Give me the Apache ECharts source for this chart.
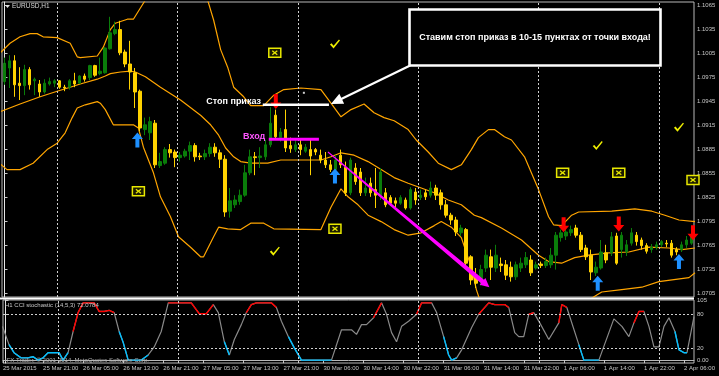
<!DOCTYPE html>
<html><head><meta charset="utf-8">
<script src="https://cdn.jsdelivr.net/npm/echarts@6/dist/echarts.min.js"></script>
<style>html,body{margin:0;padding:0;background:#000;overflow:hidden}#c{width:719px;height:376px}</style>
</head><body><div id="c"></div>
<script>
// ---------------- DATA ----------------
const timeLabels = ['25 Mar 2015','25 Mar 21:00','26 Mar 05:00','26 Mar 13:00','26 Mar 21:00','27 Mar 05:00','27 Mar 13:00','27 Mar 21:00','30 Mar 06:00','30 Mar 14:00','30 Mar 22:00','31 Mar 06:00','31 Mar 14:00','31 Mar 22:00','1 Apr 06:00','1 Apr 14:00','1 Apr 22:00','2 Apr 06:00'];
const priceTicks = [1.1065,1.1035,1.1005,1.0975,1.0945,1.0915,1.0885,1.0855,1.0825,1.0795,1.0765,1.0735,1.0705];
const stochTicks = [105,80,20,0];
const stochTickLabels = ['105','80','20','0.00'];
const stochLevels = [80,20];
const daySeparators = [10.5,34.5,58.5,82.5,106.5,130.5];
// candles: [open, close, low, high]
const candles = [
[1.0970,1.0993,1.0966,1.1000],[1.0987,1.0996,1.0962,1.1003],[1.0996,1.0966,1.0951,1.1003],[1.0968,1.0965,1.0947,1.0988],
[1.0965,1.0985,1.0953,1.0991],[1.0985,1.0966,1.0960,1.0988],[1.0971,1.0973,1.0953,1.0975],[1.0967,1.0957,1.0951,1.0972],
[1.0957,1.0968,1.0955,1.0973],[1.0967,1.0970,1.0965,1.0975],[1.0968,1.0971,1.0963,1.0973],[1.0971,1.0963,1.0961,1.0972],
[1.0963,1.0962,1.0958,1.0966],[1.0963,1.0971,1.0960,1.0973],[1.0971,1.0967,1.0963,1.0981],[1.0968,1.0977,1.0967,1.0978],
[1.0977,1.0973,1.0970,1.0980],[1.0975,1.0990,1.0972,1.0991],[1.0990,1.0978,1.0976,1.0991],[1.0980,1.0983,1.0978,1.1000],
[1.0981,1.1012,1.0980,1.1013],[1.1011,1.1031,1.1010,1.1051],[1.1030,1.1035,1.1028,1.1045],[1.1035,1.1006,1.1003,1.1046],
[1.1007,1.0992,1.0988,1.1010],[1.0992,1.0982,1.0960,1.1021],[1.0981,1.0957,1.0937,1.0987],[1.0958,1.0912,1.0908,1.0960],
[1.0910,1.0916,1.0903,1.0925],[1.0906,1.0920,1.0897,1.0926],[1.0918,1.0866,1.0862,1.0922],[1.0865,1.0870,1.0862,1.0881],
[1.0868,1.0885,1.0866,1.0888],[1.0885,1.0881,1.0875,1.0892],[1.0882,1.0875,1.0863,1.0885],[1.0875,1.0878,1.0870,1.0882],
[1.0877,1.0883,1.0875,1.0886],[1.0883,1.0890,1.0872,1.0895],[1.0890,1.0876,1.0870,1.0893],[1.0877,1.0876,1.0872,1.0881],
[1.0876,1.0880,1.0872,1.0885],[1.0880,1.0888,1.0876,1.0893],[1.0888,1.0881,1.0876,1.0893],[1.0881,1.0873,1.0862,1.0885],
[1.0873,1.0807,1.0801,1.0878],[1.0808,1.0821,1.0800,1.0837],[1.0816,1.0822,1.0812,1.0828],[1.0820,1.0828,1.0816,1.0835],
[1.0828,1.0856,1.0826,1.0866],[1.0856,1.0876,1.0853,1.0885],[1.0876,1.0875,1.0853,1.0882],[1.0875,1.0877,1.0862,1.0888],
[1.0876,1.0891,1.0872,1.0897],[1.0891,1.0918,1.0888,1.0938],[1.0928,1.0901,1.0897,1.0935],[1.0900,1.0907,1.0895,1.0912],
[1.0910,1.0887,1.0882,1.0935],[1.0890,1.0886,1.0881,1.0900],[1.0885,1.0891,1.0882,1.0897],[1.0891,1.0885,1.0878,1.0897],
[1.0883,1.0888,1.0881,1.0892],[1.0885,1.0877,1.0853,1.0897],[1.0885,1.0882,1.0878,1.0887],[1.0878,1.0872,1.0868,1.0885],
[1.0872,1.0866,1.0862,1.0882],[1.0866,1.0860,1.0857,1.0872],[1.0860,1.0872,1.0857,1.0878],[1.0878,1.0866,1.0862,1.0885],
[1.0863,1.0831,1.0827,1.0870],[1.0831,1.0872,1.0828,1.0875],[1.0862,1.0845,1.0841,1.0868],[1.0857,1.0831,1.0827,1.0862],
[1.0831,1.0837,1.0827,1.0850],[1.0843,1.0831,1.0826,1.0850],[1.0835,1.0828,1.0812,1.0862],[1.0828,1.0857,1.0822,1.0862],
[1.0831,1.0816,1.0813,1.0837],[1.0825,1.0818,1.0815,1.0828],[1.0821,1.0818,1.0813,1.0825],[1.0818,1.0825,1.0816,1.0828],
[1.0822,1.0812,1.0810,1.0825],[1.0812,1.0835,1.0810,1.0838],[1.0832,1.0822,1.0816,1.0837],[1.0825,1.0828,1.0822,1.0835],
[1.0831,1.0826,1.0822,1.0835],[1.0828,1.0837,1.0825,1.0845],[1.0837,1.0828,1.0822,1.0841],[1.0831,1.0816,1.0810,1.0835],
[1.0816,1.0803,1.0800,1.0822],[1.0803,1.0797,1.0791,1.0806],[1.0797,1.0782,1.0777,1.0801],[1.0781,1.0787,1.0777,1.0791],
[1.0785,1.0743,1.0740,1.0787],[1.0751,1.0722,1.0716,1.0753],[1.0728,1.0718,1.0712,1.0737],[1.0720,1.0735,1.0715,1.0741],
[1.0737,1.0753,1.0732,1.0760],[1.0751,1.0738,1.0722,1.0760],[1.0737,1.0753,1.0732,1.0766],[1.0742,1.0740,1.0732,1.0750],
[1.0741,1.0728,1.0722,1.0747],[1.0738,1.0726,1.0720,1.0745],[1.0726,1.0741,1.0722,1.0745],[1.0737,1.0743,1.0732,1.0750],
[1.0741,1.0750,1.0737,1.0757],[1.0747,1.0731,1.0727,1.0753],[1.0737,1.0741,1.0735,1.0745],[1.0742,1.0740,1.0737,1.0745],
[1.0740,1.0745,1.0737,1.0750],[1.0741,1.0753,1.0737,1.0762],[1.0753,1.0778,1.0735,1.0782],[1.0775,1.0781,1.0770,1.0785],
[1.0777,1.0782,1.0772,1.0787],[1.0781,1.0785,1.0777,1.0790],[1.0787,1.0778,1.0775,1.0791],[1.0778,1.0760,1.0757,1.0782],
[1.0762,1.0751,1.0747,1.0766],[1.0753,1.0732,1.0722,1.0760],[1.0731,1.0738,1.0727,1.0745],[1.0737,1.0757,1.0735,1.0772],
[1.0756,1.0747,1.0743,1.0766],[1.0756,1.0776,1.0752,1.0782],[1.0777,1.0743,1.0741,1.0781],[1.0760,1.0778,1.0750,1.0782],
[1.0757,1.0766,1.0752,1.0772],[1.0768,1.0781,1.0765,1.0787],[1.0778,1.0770,1.0765,1.0782],[1.0772,1.0765,1.0760,1.0775],
[1.0765,1.0758,1.0755,1.0768],[1.0760,1.0763,1.0756,1.0767],[1.0763,1.0766,1.0760,1.0770],[1.0766,1.0770,1.0763,1.0772],
[1.0768,1.0767,1.0763,1.0772],[1.0768,1.0753,1.0750,1.0772],[1.0760,1.0757,1.0753,1.0763],[1.0760,1.0766,1.0757,1.0770],
[1.0766,1.0772,1.0762,1.0777],[1.0768,1.0776,1.0766,1.0782]
];
// Bollinger bands: [bar index, price]
const bbUpper = [[-1,1.1005],[1.1,1.1018],[3.1,1.1026],[5.1,1.1030],[6.5,1.1030],[7.7,1.1026],[10.5,1.1025],[13.1,1.1018],[14.5,1.1001],[15.1,1.1000],[18.5,1.1002],[19.7,1.1013],[21.1,1.1035],[22.1,1.1043],[24.5,1.1048],[25.7,1.1048],[27.1,1.1062],[28.5,1.1076],[31.1,1.1110],[36.1,1.1110],[39.1,1.1085],[40.5,1.1072],[41.7,1.1047],[43.1,1.1010],[44.5,1.0988],[45.7,1.0963],[47.7,1.0951],[49.1,1.0940],[51.7,1.0940],[53.7,1.0953],[55.7,1.0960],[59.1,1.0962],[63.1,1.0960],[65.1,1.0943],[67.1,1.0926],[69.1,1.0935],[71.7,1.0942],[73.7,1.0931],[75.7,1.0925],[77.7,1.0921],[80.5,1.0910],[82.1,1.0897],[84.5,1.0882],[86.5,1.0868],[89.1,1.0860],[91.1,1.0866],[93.1,1.0885],[94.5,1.0900],[96.5,1.0910],[97.7,1.0910],[99.7,1.0901],[101.1,1.0897],[103.7,1.0876],[106.5,1.0835],[108.5,1.0801],[109.5,1.0791],[111.1,1.0790],[113.1,1.0803],[114.5,1.0807],[121.1,1.0808],[125.7,1.0811],[129.1,1.0808],[131.7,1.0803],[134.5,1.0797],[137.7,1.0795]];
const bbMiddle = [[-1,1.0932],[3.1,1.0942],[7.1,1.0951],[10.5,1.0958],[13.1,1.0963],[15.1,1.0967],[18.5,1.0973],[20.1,1.0977],[21.1,1.0980],[23.1,1.0982],[25.1,1.0983],[26.1,1.0982],[28.1,1.0976],[31.1,1.0963],[35.1,1.0947],[39.1,1.0928],[41.1,1.0916],[42.7,1.0903],[44.1,1.0887],[45.7,1.0876],[47.1,1.0870],[49.1,1.0868],[52.5,1.0868],[55.1,1.0872],[63.1,1.0872],[65.1,1.0876],[67.1,1.0881],[69.7,1.0878],[72.5,1.0870],[75.1,1.0860],[77.7,1.0850],[80.5,1.0843],[83.1,1.0837],[85.7,1.0831],[88.5,1.0822],[91.1,1.0816],[93.7,1.0803],[95.1,1.0800],[99.1,1.0787],[103.1,1.0772],[106.5,1.0753],[108.5,1.0745],[111.1,1.0743],[113.7,1.0750],[116.5,1.0753],[120.5,1.0756],[124.5,1.0757],[128.5,1.0763],[132.5,1.0762],[135.1,1.0760],[137.7,1.0762]];
const bbLower = [[-1,1.0868],[0.5,1.0860],[3.1,1.0860],[5.7,1.0868],[8.5,1.0885],[10.5,1.0893],[12.1,1.0906],[13.5,1.0925],[14.5,1.0937],[16.1,1.0941],[18.5,1.0945],[19.1,1.0943],[20.1,1.0935],[21.7,1.0916],[25.7,1.0916],[26.7,1.0912],[27.7,1.0888],[29.7,1.0856],[31.1,1.0826],[33.1,1.0801],[34.7,1.0776],[37.1,1.0763],[39.1,1.0751],[39.7,1.0751],[41.7,1.0776],[42.7,1.0788],[44.5,1.0786],[47.1,1.0785],[49.1,1.0793],[51.7,1.0793],[53.7,1.0786],[63.1,1.0785],[65.1,1.0813],[67.1,1.0836],[68.5,1.0826],[70.5,1.0816],[72.5,1.0803],[75.1,1.0795],[77.7,1.0785],[80.5,1.0778],[83.1,1.0781],[85.7,1.0790],[87.1,1.0795],[89.1,1.0788],[91.1,1.0775],[93.1,1.0738],[94.1,1.0710],[95.1,1.0691],[103.1,1.0672],[113.1,1.0684],[119.1,1.0707],[123.1,1.0710],[127.1,1.0713],[130.5,1.0720],[136.5,1.0725],[137.7,1.0731]];
// CCI stochastic: [bar index, value]
const stoch = [[-0.6,59],[0.7,27],[1.7,13],[3.1,4],[4.5,4],[5.5,6],[6.5,0],[7.5,4],[8.5,13],[10.7,13],[11.5,0],[12.5,13],[13.5,50],[14.5,83],[15.5,100],[17.7,100],[18.7,85],[19.7,85],[20.7,87],[21.7,83],[22.7,50],[23.5,31],[24.5,0],[27.1,0],[28.5,9],[29.7,23],[31.1,50],[32.5,100],[37.1,100],[38.7,81],[40.1,81],[41.5,97],[42.5,83],[43.7,32],[44.7,9],[45.7,36],[47.1,62],[48.1,83],[49.1,97],[50.1,100],[53.1,100],[54.1,92],[55.1,68],[56.5,41],[57.7,21],[59.1,0],[65.1,0],[67.1,53],[69.1,53],[70.1,45],[71.1,62],[72.1,62],[73.5,74],[75.1,100],[76.1,80],[77.1,48],[78.1,32],[79.1,59],[80.5,68],[82.1,80],[83.1,100],[85.1,100],[86.1,83],[87.5,41],[88.5,9],[89.1,0],[90.1,4],[91.1,18],[93.1,57],[94.5,80],[96.5,100],[97.7,97],[99.7,97],[100.5,92],[101.7,48],[102.5,41],[103.5,41],[104.5,80],[105.5,83],[106.7,65],[108.5,36],[110.5,65],[111.1,97],[112.1,92],[114.5,27],[115.5,0],[118.5,0],[120.5,48],[121.5,72],[123.1,59],[124.5,41],[125.5,65],[126.5,85],[127.5,85],[128.5,59],[129.5,23],[130.5,23],[131.5,59],[132.5,74],[133.7,50],[134.5,18],[135.5,13],[136.1,13],[137.5,76]];
const stochRedRanges = [[13.5,21.7],[32.5,41.5],[48.1,54.1],[73.5,75.1],[82.1,85.1],[94.5,100.5],[104.5,105.5],[110.5,112.1],[125.5,127.5]];
const stochBlueRanges = [[0.7,12.5],[22.7,28.5],[43.7,44.7],[56.5,65.1],[87.5,90.1],[114.5,118.5],[133.7,136.1]];
// signal objects: [bar index, price]
const upArrows = [[26.5,1.0897],[65.9,1.0852],[118.3,1.0718],[134.5,1.0745]];
const downArrows = [[54.1,1.0945],[111.5,1.0791],[122.5,1.0792],[137.3,1.0781]];
const checkMarks = [[65.9,1.1017],[53.9,1.0758],[118.3,1.0890],[134.5,1.0913]];
const crossBoxes = [[53.9,1.1006],[26.7,1.0833],[65.9,1.0786],[111.3,1.0856],[122.5,1.0856],[137.3,1.0847]];
const dots = [[59.7,1.0956]];
// annotation objects: [bar index, price]
const stopLine = [[51.5,1.0941],[64.7,1.0941]];
const entryLine = [[52.7,1.0898],[62.7,1.0898]];
const stopArrow = [[80.9,1.0990],[65.1,1.0942]];
const trendArrow = [[64.5,1.0882],[96.7,1.0713]];
const texts = {
  symbol: 'EURUSD,H1',
  note: 'Ставим стоп приказ в 10-15 пунктах от точки входа!',
  stop: 'Стоп приказ',
  entry: 'Вход',
  indicator: 'H1 CCI stochastic (14,5,3) 72.0784',
  copyright: 'IFX Trader, © 2001-2014, MetaQuotes Software Corp.'
};

// ---------------- CHART ----------------
const chart = echarts.init(document.getElementById('c'), null, {renderer:'canvas', width:719, height:376});
const N = candles.length;
const categories = candles.map((_, i) => String(i));
const xMin = -0.5, xMax = N - 0.5;
const FONT = '"Liberation Sans", Arial, sans-serif';
const axisTxt = '#c8c8c8';
const labelPos = timeLabels.map((_, k) => k * 8 - 0.5);

function bandSeries(data) {
  return {type:'line', xAxisIndex:1, yAxisIndex:0, data, showSymbol:false, symbol:'none', silent:true,
    lineStyle:{color:'#ffa500', width:1.2}, clip:true, z:3};
}
function pick(r) { return stoch.filter(p => p[0] >= r[0] - 1e-9 && p[0] <= r[1] + 1e-9); }

function arrowPoly(p0, p1, w0, w1, hl, hw) {
  const dx = p1[0]-p0[0], dy = p1[1]-p0[1], L = Math.hypot(dx, dy);
  const ux = dx/L, uy = dy/L, nx = -uy, ny = ux;
  const bx = p1[0]-ux*hl, by = p1[1]-uy*hl;
  return [[p0[0]+nx*w0/2, p0[1]+ny*w0/2],[bx+nx*w1/2, by+ny*w1/2],[bx+nx*hw/2, by+ny*hw/2],[p1[0],p1[1]],
          [bx-nx*hw/2, by-ny*hw/2],[bx-nx*w1/2, by-ny*w1/2],[p0[0]-nx*w0/2, p0[1]-ny*w0/2]];
}

const series = [
  {type:'candlestick', xAxisIndex:0, yAxisIndex:0, data:candles, barWidth:3, silent:true, z:4,
   itemStyle:{color:'#0a7d0a', color0:'#ffd200', borderColor:'#0a7d0a', borderColor0:'#ffd200', borderWidth:1}},
  bandSeries(bbUpper), bandSeries(bbMiddle), bandSeries(bbLower),
  // day separators (main)
  {type:'line', xAxisIndex:1, yAxisIndex:0, data:[], silent:true,
   markLine:{symbol:'none', silent:true, label:{show:false}, animation:false,
     lineStyle:{color:'#d0d0d0', type:[2,2], width:1}, data: daySeparators.map(v => ({xAxis:v}))}},
  // day separators + levels (sub)
  {type:'line', xAxisIndex:2, yAxisIndex:1, data:[], silent:true,
   markLine:{symbol:'none', silent:true, label:{show:false}, animation:false,
     lineStyle:{color:'#d0d0d0', type:[2,2], width:1},
     data: daySeparators.map(v => ({xAxis:v})).concat(stochLevels.map(v => ({yAxis:v})))}},
  {type:'scatter', xAxisIndex:1, yAxisIndex:0, data:upArrows, silent:true, z:6,
   symbol:'path://M5.5,0 L11,6.5 L7.5,6.5 L7.5,15 L3.5,15 L3.5,6.5 L0,6.5 Z', symbolSize:[11,15],
   itemStyle:{color:'#1e90ff', opacity:1}},
  {type:'scatter', xAxisIndex:1, yAxisIndex:0, data:downArrows, silent:true, z:6,
   symbol:'path://M5.5,15 L11,8.5 L7.5,8.5 L7.5,0 L3.5,0 L3.5,8.5 L0,8.5 Z', symbolSize:[11,15],
   itemStyle:{color:'#ff0000', opacity:1}},
  {type:'scatter', xAxisIndex:1, yAxisIndex:0, data:checkMarks, silent:true, z:6,
   symbol:'path://M0,5.5 L1.6,4.3 L3.6,7 L9,0 L10,1 L3.6,10 Z', symbolSize:[10,9],
   itemStyle:{color:'#f0f000', opacity:1}},
  {type:'scatter', xAxisIndex:1, yAxisIndex:0, data:dots, silent:true, z:6,
   symbol:'rect', symbolSize:[2,2], itemStyle:{color:'#cfcfcf', opacity:1}},
  {type:'custom', xAxisIndex:1, yAxisIndex:0, data:crossBoxes, silent:true, z:6,
   renderItem:(params, api) => {
     const p = api.coord([api.value(0), api.value(1)]);
     return {type:'group', children:[
       {type:'rect', shape:{x:p[0]-6, y:p[1]-4.5, width:12, height:9}, style:{fill:'#1a1a00', stroke:'#e8e800', lineWidth:1.5}},
       {type:'line', shape:{x1:p[0]-2.5, y1:p[1]-2, x2:p[0]+2.5, y2:p[1]+2}, style:{stroke:'#e8e800', lineWidth:1.3}},
       {type:'line', shape:{x1:p[0]-2.5, y1:p[1]+2, x2:p[0]+2.5, y2:p[1]-2}, style:{stroke:'#e8e800', lineWidth:1.3}}
     ]};
   }},
  {type:'custom', xAxisIndex:1, yAxisIndex:0, data:[[0,0]], silent:true, z:7,
   renderItem:(params, api) => {
     const c = p => api.coord(p);
     const s0 = c(stopLine[0]), s1 = c(stopLine[1]);
     const e0 = c(entryLine[0]), e1 = c(entryLine[1]);
     const w0 = c(stopArrow[0]), w1 = c(stopArrow[1]);
     const t0 = c(trendArrow[0]), t1 = c(trendArrow[1]);
     return {type:'group', children:[
       {type:'line', shape:{x1:s0[0], y1:s0[1], x2:s1[0], y2:s1[1]}, style:{stroke:'#ffffff', lineWidth:2.5}},
       {type:'line', shape:{x1:e0[0], y1:e0[1], x2:e1[0], y2:e1[1]}, style:{stroke:'#ff00ff', lineWidth:3}},
       {type:'polygon', shape:{points:arrowPoly(w0, w1, 2.2, 2.2, 12, 11)}, style:{fill:'#ffffff'}},
       {type:'polygon', shape:{points:arrowPoly(t0, t1, 1, 4.5, 9, 9)}, style:{fill:'#ff00ff'}}
     ]};
   }},
  {type:'line', xAxisIndex:2, yAxisIndex:1, data:stoch, showSymbol:false, symbol:'none', silent:true,
   lineStyle:{color:'#8a8a8a', width:1.2}, z:3}
];
stochRedRanges.forEach(r => series.push({type:'line', xAxisIndex:2, yAxisIndex:1, data:pick(r), showSymbol:false,
  symbol:'none', silent:true, lineStyle:{color:'#ff0000', width:1.4}, z:4}));
stochBlueRanges.forEach(r => series.push({type:'line', xAxisIndex:2, yAxisIndex:1, data:pick(r), showSymbol:false,
  symbol:'none', silent:true, lineStyle:{color:'#00bfff', width:1.4}, z:4}));

const option = {
  backgroundColor:'#000',
  animation:false,
  grid:[
    {left:2, top:2, width:692, height:295, show:true, borderColor:'#b8b8b8', borderWidth:1, backgroundColor:'transparent'},
    {left:2, top:300, width:692, height:63, show:true, borderColor:'#b8b8b8', borderWidth:1, backgroundColor:'transparent'}
  ],
  xAxis:[
    {type:'category', gridIndex:0, data:categories, boundaryGap:true, show:false},
    {type:'value', gridIndex:0, min:xMin, max:xMax, show:false},
    {type:'value', gridIndex:1, min:xMin, max:xMax, position:'bottom',
     axisLine:{show:true, lineStyle:{color:'#b8b8b8'}},
     axisTick:{show:true, length:3, customValues:labelPos, lineStyle:{color:axisTxt}},
     axisLabel:{show:true, customValues:labelPos, align:'left', margin:2, color:axisTxt, fontSize:6, fontFamily:FONT,
       formatter:v => timeLabels[Math.round((v + 0.5) / 8)] || ''},
     splitLine:{show:false}}
  ],
  yAxis:[
    {type:'value', gridIndex:0, position:'right', min:1.070075, max:1.10695, scale:true,
     axisLine:{show:true, lineStyle:{color:'#e6e6e6'}},
     axisTick:{show:true, length:3, customValues:priceTicks, lineStyle:{color:axisTxt}},
     axisLabel:{show:true, customValues:priceTicks, margin:3, color:axisTxt, fontSize:6, fontFamily:FONT,
       formatter:v => v.toFixed(4)},
     splitLine:{show:false}},
    {type:'value', gridIndex:1, position:'right', min:-5, max:105,
     axisLine:{show:true, lineStyle:{color:'#e6e6e6'}},
     axisTick:{show:true, length:3, customValues:stochTicks, lineStyle:{color:axisTxt}},
     axisLabel:{show:true, customValues:stochTicks, margin:3, color:axisTxt, fontSize:6, fontFamily:FONT,
       formatter:v => stochTickLabels[stochTicks.indexOf(Math.round(v))] || ''},
     splitLine:{show:false}}
  ],
  series,
  graphic:[
    {type:'line', z:50, shape:{x1:0, y1:298.5, x2:694, y2:298.5}, style:{stroke:'#ffffff', lineWidth:2}},
    {type:'polygon', z:50, shape:{points:[[5,5],[10,5],[7.5,8]]}, style:{fill:'#e0e0e0'}},
    {type:'text', z:50, style:{text:texts.symbol, x:12, y:6.5, fill:'#d8d8d8', font:'6.5px ' + FONT, textVerticalAlign:'middle'}},
    {type:'rect', z:50, shape:{x:409.5, y:9.5, width:251, height:56}, style:{fill:'#000', stroke:'#ffffff', lineWidth:2.6}},
    {type:'text', z:51, style:{text:texts.note, x:535, y:38, fill:'#ffffff', font:'bold 9px ' + FONT, textAlign:'center', textVerticalAlign:'middle'}},
    {type:'text', z:51, style:{text:texts.stop, x:261, y:102, fill:'#ffffff', font:'bold 9px ' + FONT, textAlign:'right', textVerticalAlign:'middle'}},
    {type:'text', z:51, style:{text:texts.entry, x:243, y:137, fill:'#ff55ff', font:'bold 9px ' + FONT, textAlign:'left', textVerticalAlign:'middle'}},
    {type:'text', z:51, style:{text:texts.indicator, x:5, y:305, fill:'#c8c8c8', font:'6px ' + FONT, textVerticalAlign:'middle'}},
    {type:'text', z:51, style:{text:texts.copyright, x:5, y:360.5, fill:'#b0b0b0', font:'6px ' + FONT, textVerticalAlign:'middle'}}
  ]
};
chart.setOption(option);
</script>
</body></html>
